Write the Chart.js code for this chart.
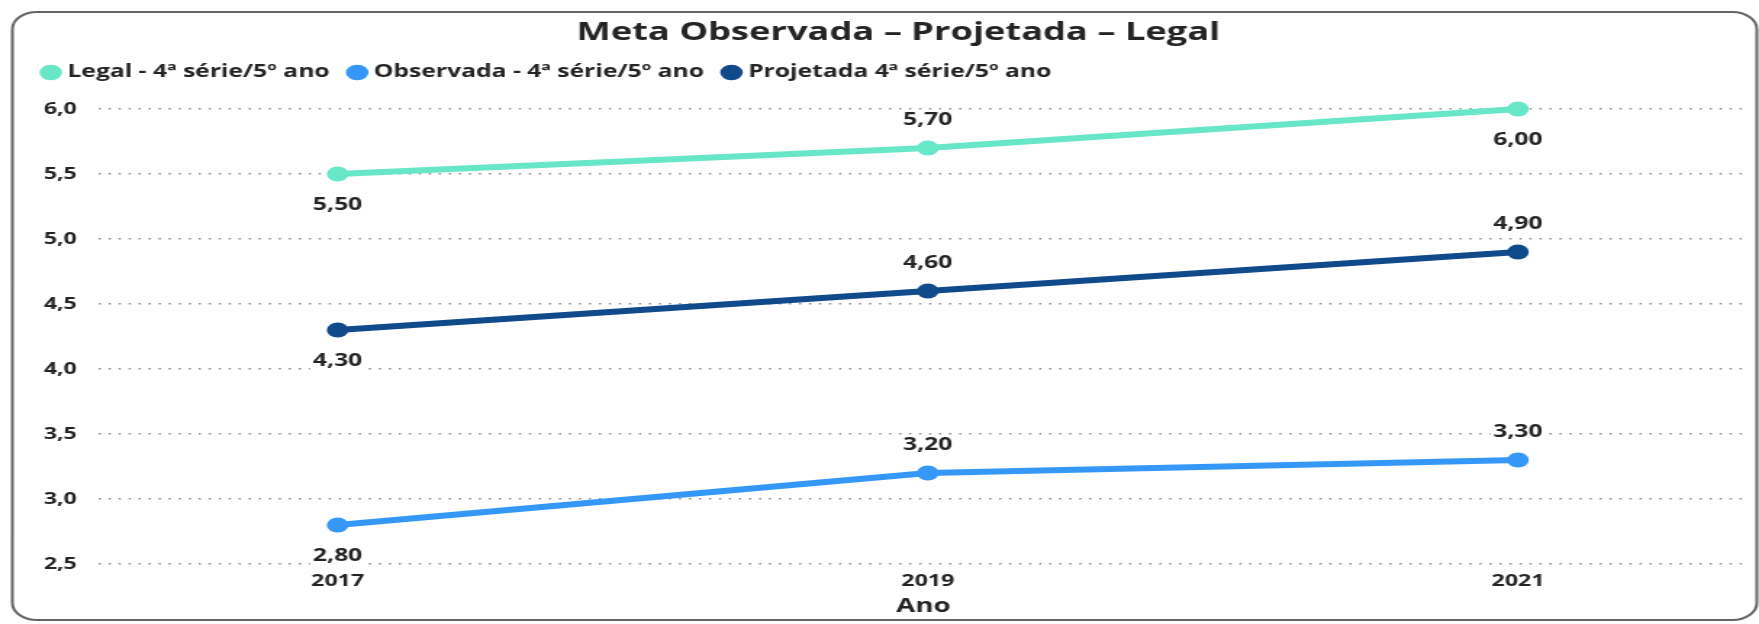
<!DOCTYPE html>
<html>
<head>
<meta charset="utf-8">
<script src="https://cdn.jsdelivr.net/npm/chart.js@4.4.1/dist/chart.umd.min.js"></script>
<style>
  html, body { margin: 0; padding: 0; background: #fff; }
  /* o visual original está esticado na horizontal */
  #metaChart { display: block; width: 1759px; height: 624px; }
</style>
</head>
<body>
<canvas id="metaChart" width="1213" height="624" style="width:1759px;height:624px"></canvas>
<script>
  // Anos e valores por série
  const anos = [2017, 2019, 2021];
  const legal = [5.5, 5.7, 6.0];
  const observada = [2.8, 3.2, 3.3];
  const projetada = [4.3, 4.6, 4.9];
  const yTicks = [2.5, 3.0, 3.5, 4.0, 4.5, 5.0, 5.5, 6.0];

  const fonte = "'Open Sans', 'DejaVu Sans', sans-serif";
  const corTexto = '#252423';

  function pontos(valores) {
    return anos.map((a, i) => ({ x: a, y: valores[i] }));
  }

  function serie(label, valores, cor, lados) {
    return {
      label: label,
      data: pontos(valores),
      borderColor: cor,
      backgroundColor: cor,
      borderWidth: 6,
      pointRadius: 7.5,
      pointHoverRadius: 7.5,
      pointBorderWidth: 0,
      tension: 0,
      clip: false,
      labelSides: lados
    };
  }

  // Rótulos de dados com fundo branco
  const rotulos = {
    id: 'rotulos',
    afterDatasetsDraw(chart) {
      const ctx = chart.ctx;
      ctx.save();
      ctx.font = 'bold 17px ' + fonte;
      ctx.textAlign = 'center';
      ctx.textBaseline = 'middle';
      chart.data.datasets.forEach((ds, di) => {
        chart.getDatasetMeta(di).data.forEach((pt, i) => {
          const txt = ds.data[i].y.toFixed(2).replace('.', ',');
          const y = pt.y + (ds.labelSides[i] === 'below' ? 31 : -28);
          const w = ctx.measureText(txt).width;
          ctx.fillStyle = '#fff';
          ctx.fillRect(pt.x - w / 2 - 2, y - 10, w + 4, 20);
          ctx.fillStyle = corTexto;
          ctx.fillText(txt, pt.x, y);
        });
      });
      ctx.restore();
    }
  };

  // Moldura arredondada do cartão
  const moldura = {
    id: 'moldura',
    beforeDraw(chart) {
      const ctx = chart.ctx;
      ctx.save();
      ctx.strokeStyle = '#666';
      ctx.lineWidth = 2;
      ctx.beginPath();
      ctx.roundRect(8.5, 12, 1203, 608, 17);
      ctx.stroke();
      ctx.restore();
    }
  };

  // Espaço extra abaixo da legenda e título um pouco à direita
  const ajustes = {
    id: 'ajustes',
    beforeInit(chart) {
      const fit = chart.legend.fit;
      chart.legend.fit = function () {
        fit.bind(chart.legend)();
        this.height += 18;
      };
    },
    afterLayout(chart) {
      chart.titleBlock.left += 8;
      chart.titleBlock.right += 8;
    }
  };

  const config = {
    type: 'line',
    data: {
      datasets: [
        serie('Legal - 4ª série/5º ano', legal, '#68E6C8', ['below', 'above', 'below']),
        serie('Observada - 4ª série/5º ano', observada, '#3598F8', ['below', 'above', 'above']),
        serie('Projetada 4ª série/5º ano', projetada, '#114A8B', ['below', 'above', 'above'])
      ]
    },
    options: {
      responsive: false,
      animation: false,
      devicePixelRatio: 1,
      layout: { padding: { left: 16, right: 6, top: 0, bottom: 2 } },
      plugins: {
        title: {
          display: true,
          text: 'Meta Observada – Projetada – Legal',
          color: corTexto,
          font: { family: fonte, size: 25, weight: 'bold' },
          padding: { top: 18, bottom: 0 }
        },
        legend: {
          align: 'start',
          labels: {
            usePointStyle: true,
            pointStyle: 'circle',
            boxWidth: 6,
            boxHeight: 11,
            padding: 16,
            color: corTexto,
            font: { family: fonte, size: 17, weight: 'bold' }
          }
        },
        tooltip: { enabled: false }
      },
      scales: {
        x: {
          type: 'linear',
          min: 2016.19,
          max: 2021.78,
          afterBuildTicks(scale) {
            scale.ticks = anos.map(v => ({ value: v }));
          },
          afterFit(scale) {
            scale.height = 58;
          },
          grid: { display: false },
          border: { display: false },
          ticks: {
            padding: 0,
            maxRotation: 0,
            color: corTexto,
            font: { family: fonte, size: 16, weight: 'bold' },
            callback: v => String(v)
          },
          title: {
            display: true,
            text: 'Ano',
            color: corTexto,
            font: { family: fonte, size: 19, weight: 'bold' },
            padding: { top: 5, bottom: 4 }
          }
        },
        y: {
          min: 2.5,
          max: 6.0,
          afterBuildTicks(scale) {
            scale.ticks = yTicks.map(v => ({ value: v }));
          },
          afterFit(scale) {
            scale.width = 52;
          },
          grid: {
            color: '#8c8c8c',
            lineWidth: 1.5,
            drawTicks: false
          },
          border: { display: false, dash: [1.5, 5.4] },
          ticks: {
            padding: 15,
            color: corTexto,
            font: { family: fonte, size: 16, weight: 'bold' },
            callback: v => v.toFixed(1).replace('.', ',')
          }
        }
      }
    },
    plugins: [moldura, ajustes, rotulos]
  };

  new Chart(document.getElementById('metaChart'), config);
</script>
</body>
</html>
